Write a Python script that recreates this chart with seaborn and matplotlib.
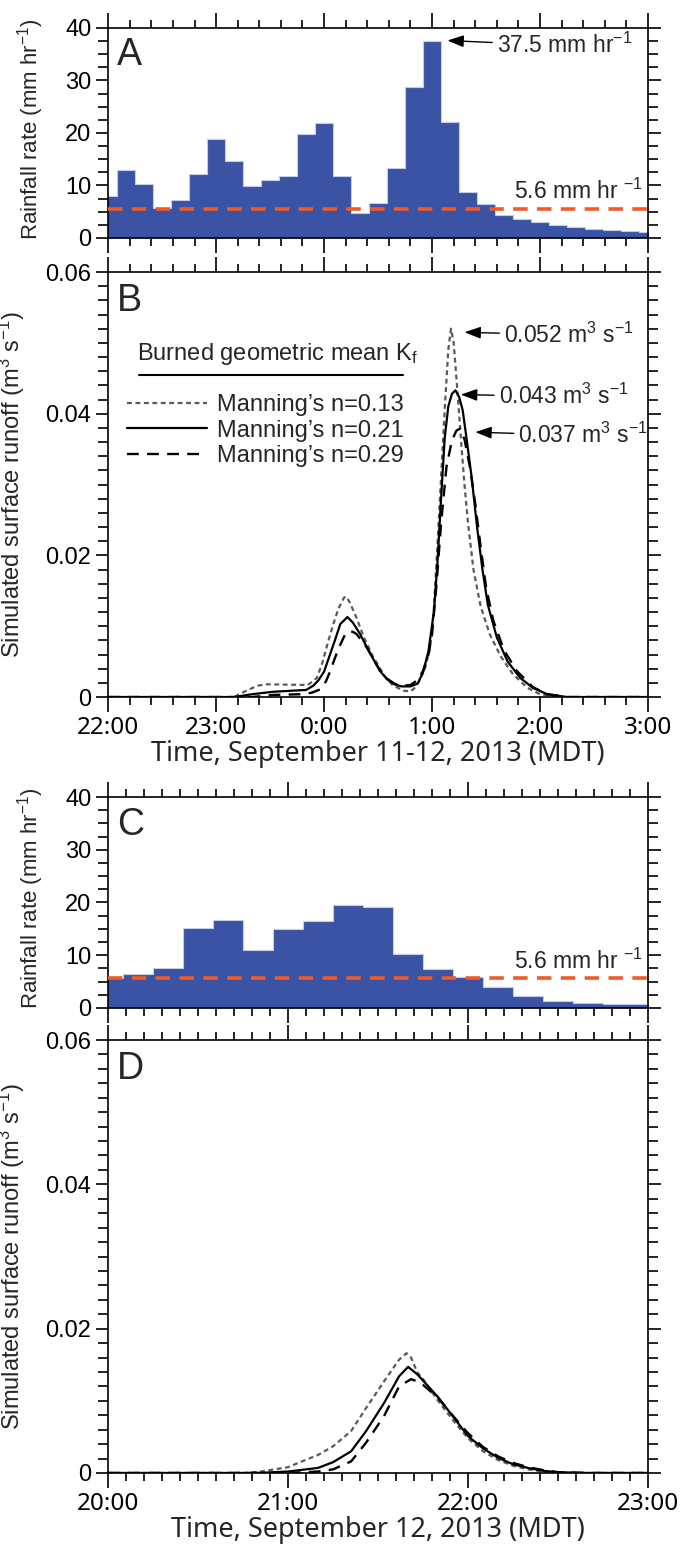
import numpy as np
import pandas as pd
import seaborn as sns
import matplotlib.pyplot as plt
from matplotlib.lines import Line2D
from matplotlib.ticker import MultipleLocator, FixedLocator, FuncFormatter

# ---------------- data ----------------
# panel A: 10-min rainfall, minutes after 22:00 (Sep 11)
rain_a_time = [0, 10, 20, 30, 40, 50, 60, 70, 80, 90, 100, 110, 120, 130, 140, 150,
               160, 170, 180, 190, 200, 210, 220, 230, 240, 250, 260, 270, 280, 290, 300]
rain_a = [7.9, 12.9, 10.2, 5.65, 7.3, 12.2, 18.8, 14.7, 9.9, 11.0, 11.7, 19.8, 21.8, 11.7,
          4.7, 6.7, 13.4, 28.7, 37.5, 22.1, 8.7, 6.4, 4.4, 3.6, 2.95, 2.45, 2.0, 1.75,
          1.5, 1.25, 1.07]

# panel C: 10-min rainfall, minutes after 20:00 (Sep 12)
rain_c_time = [0, 10, 20, 30, 40, 50, 60, 70, 80, 90, 100, 110, 120, 130, 140, 150, 160, 170, 180]
rain_c = [5.6, 6.4, 7.5, 15.2, 16.7, 10.9, 15.0, 16.4, 19.5, 19.2, 10.2, 7.4, 5.9, 4.0,
          2.2, 1.26, 0.9, 0.75, 0.75]

threshold = 5.6

# panel B: simulated runoff, minutes after 22:00
b013_t = [0, 70, 76, 83, 88, 111, 116, 119, 122, 125, 128, 131, 132, 134, 138, 142, 147,
          153, 158, 164, 168, 170, 173, 176, 179, 181, 183, 185, 187, 189, 190.5, 192, 194,
          196, 198, 200, 203, 207, 212, 218, 225, 233, 240, 250, 300]
b013_q = [0, 0, 0.0008, 0.0016, 0.0018, 0.0017, 0.0027, 0.0048, 0.0076, 0.0102, 0.0125,
          0.0140, 0.0142, 0.0135, 0.0112, 0.0085, 0.0058, 0.0032, 0.0017, 0.0009, 0.0008,
          0.0012, 0.0023, 0.0040, 0.0070, 0.0125, 0.0215, 0.0310, 0.0405, 0.0490, 0.0520,
          0.0500, 0.0435, 0.0365, 0.0300, 0.0245, 0.0180, 0.0128, 0.0089, 0.0058, 0.0032,
          0.0013, 0.0004, 0, 0]

b021_t = [0, 70, 80, 92, 110, 114, 117, 120, 123, 126, 129, 133, 136, 140, 144, 147, 151,
          155, 159, 163, 168, 172, 175, 178, 181, 183, 185, 187, 189, 191, 193, 195, 197,
          199, 202, 205, 208, 211, 216, 222, 229, 236, 244, 255, 300]
b021_q = [0, 0, 0.0004, 0.00075, 0.0010, 0.0016, 0.0024, 0.0036, 0.0058, 0.0080, 0.0103,
          0.0113, 0.0105, 0.0089, 0.0069, 0.0055, 0.0037, 0.0025, 0.0018, 0.0015, 0.0015,
          0.0019, 0.0035, 0.0065, 0.0120, 0.0190, 0.0280, 0.0365, 0.0410, 0.0428, 0.0433,
          0.0424, 0.0405, 0.0368, 0.0310, 0.0240, 0.0180, 0.0130, 0.0084, 0.0050, 0.0027,
          0.0013, 0.0004, 0, 0]

b029_t = [0, 80, 92, 108, 113, 118, 121, 123, 126, 129, 132, 134, 136, 138, 142, 144, 147,
          151, 155, 159, 163, 168, 172, 175, 178, 180, 182.5, 185, 188, 191, 193.5, 195.5,
          198, 201, 204, 207, 210, 214, 220, 227, 236, 244, 255, 300]
b029_q = [0, 0, 0.0003, 0.0004, 0.0006, 0.0011, 0.0022, 0.0034, 0.0055, 0.0074, 0.0090,
          0.0093, 0.0092, 0.0089, 0.0076, 0.0069, 0.0055, 0.0038, 0.0026, 0.0019, 0.0016,
          0.0017, 0.0024, 0.0037, 0.0060, 0.0089, 0.0160, 0.0245, 0.0325, 0.0362, 0.0376,
          0.0379, 0.0364, 0.0325, 0.0273, 0.0212, 0.0155, 0.0108, 0.0066, 0.0037, 0.0014,
          0.0004, 0, 0]

# panel D: simulated runoff, minutes after 20:00
d013_t = [0, 45, 51, 60, 64, 70, 75, 81, 86, 92, 97, 99.5, 101, 103, 105, 110, 115, 120,
          125, 130, 135, 140, 145, 155, 180]
d013_q = [0, 0, 0.0002, 0.0008, 0.0015, 0.0025, 0.0037, 0.0058, 0.0090, 0.0127, 0.0157,
          0.0166, 0.0160, 0.0140, 0.0130, 0.0100, 0.0073, 0.0048, 0.0030, 0.0018, 0.0010,
          0.0005, 0.0002, 0, 0]

d021_t = [0, 50, 60, 70, 75, 81, 86, 92, 97, 100, 103, 105, 110, 115, 120, 125, 130, 135,
          140, 145, 150, 160, 180]
d021_q = [0, 0, 0.0002, 0.0007, 0.0015, 0.0030, 0.0058, 0.0097, 0.0134, 0.0147, 0.0137,
          0.0128, 0.0105, 0.0078, 0.0051, 0.0034, 0.0021, 0.0012, 0.0007, 0.0003, 0.0001, 0, 0]

d029_t = [0, 60, 70, 75, 81, 86, 92, 97, 101, 103, 105, 110, 115, 120, 125, 130, 135, 140,
          145, 150, 160, 180]
d029_q = [0, 0, 0.0002, 0.0005, 0.0016, 0.0042, 0.0079, 0.0120, 0.0130, 0.0127, 0.0122,
          0.0104, 0.0079, 0.0055, 0.0036, 0.0023, 0.0014, 0.0008, 0.0004, 0.0001, 0, 0]

labels_ab = ['22:00', '23:00', '0:00', '1:00', '2:00', '3:00']
labels_cd = ['20:00', '21:00', '22:00', '23:00']
series_names = ["Manning\u2019s n=0.13", "Manning\u2019s n=0.21", "Manning\u2019s n=0.29"]

# ---------------- style ----------------
sns.set_style('ticks')
plt.rcParams['font.family'] = ['Liberation Sans', 'DejaVu Sans']
plt.rcParams['mathtext.fontset'] = 'custom'
plt.rcParams['mathtext.rm'] = 'Liberation Sans'
plt.rcParams['mathtext.default'] = 'regular'
plt.rcParams['axes.linewidth'] = 1.2

BLUE = '#3a53a4'
ORANGE = '#f15a29'
GREY = '#5a5a5a'
line_styles = [dict(color=GREY, lw=1.6, linestyle=(0, (2.2, 1.6))),
               dict(color='k', lw=1.6, linestyle='-'),
               dict(color='k', lw=1.7, linestyle=(0, (5, 3.5)))]
XFONT = ['Noto Sans', 'DejaVu Sans']

fig = plt.figure(figsize=(6.8, 15.5), dpi=100)
axA = fig.add_axes([0.159, 0.8465, 0.794, 0.1355])
axB = fig.add_axes([0.159, 0.5503, 0.794, 0.2742])
axC = fig.add_axes([0.159, 0.3497, 0.794, 0.1361])
axD = fig.add_axes([0.159, 0.0497, 0.794, 0.2793])


def frame(ax, span, minor_x, labels, ymax, ymajor, yminor, show_x):
    ax.set_xlim(0, span)
    ax.set_ylim(0, ymax)
    ax.xaxis.set_major_locator(FixedLocator(np.arange(0, span + 1, 60)))
    ax.xaxis.set_minor_locator(MultipleLocator(minor_x))
    ax.yaxis.set_major_locator(MultipleLocator(ymajor))
    ax.yaxis.set_minor_locator(MultipleLocator(yminor))
    ax.tick_params(which='both', direction='out', top=True, right=True, width=1.2,
                   colors='k', labelsize=17, pad=3)
    ax.tick_params(axis='x', which='major', length=11)
    ax.tick_params(axis='x', which='minor', length=6)
    ax.tick_params(axis='y', which='major', length=9)
    ax.tick_params(axis='y', which='minor', length=7)
    if show_x:
        ax.set_xticklabels(labels, family=XFONT, fontsize=17.5)
    else:
        ax.set_xticklabels([])
    for s in ax.spines.values():
        s.set_visible(True)
        s.set_color('k')


def rain_panel(ax, t, r, span, minor_x, letter):
    edges = list(np.arange(-5, span + 10, 10))
    df = pd.DataFrame({'time': t, 'rain': r})
    sns.histplot(data=df, x='time', weights='rain', bins=edges, element='step', fill=True,
                 color=BLUE, alpha=1, edgecolor='#c3cbe6', linewidth=0.8, ax=ax)
    ax.axhline(threshold, color=ORANGE, lw=2.6, linestyle=(0, (4, 2.6)), zorder=3)
    frame(ax, span, minor_x, None, 40, 10, 2.5, False)
    ax.yaxis.set_major_formatter(FuncFormatter(lambda v, p: f'{v:.0f}'))
    ax.set_xlabel('')
    ax.set_ylabel('Rainfall rate (mm hr$^{-1}$)', fontsize=16, labelpad=2)
    ax.yaxis.set_label_coords(-0.115, 0.52)
    ax.text(0.017, 0.955, letter, transform=ax.transAxes, fontsize=27, va='top', ha='left')
    ax.text(span * 0.99, threshold + 0.9, '5.6 mm hr $^{-1}$', ha='right', va='bottom',
            fontsize=16.5)


def runoff_panel(ax, series, span, minor_x, labels, xlabel, letter):
    for (t, q), kw in zip(series, line_styles):
        sns.lineplot(x=t, y=q, ax=ax, errorbar=None, **kw)
    frame(ax, span, minor_x, labels, 0.06, 0.02, 0.002, True)
    ax.yaxis.set_major_formatter(FuncFormatter(lambda v, p: '0' if abs(v) < 1e-9 else f'{v:.2f}'))
    ax.set_xlabel(xlabel, family=XFONT, fontsize=19.5, labelpad=0)
    ax.set_ylabel('Simulated surface runoff (m$^{3}$ s$^{-1}$)', fontsize=17, labelpad=2)
    ax.yaxis.set_label_coords(-0.150, 0.5)
    ax.text(0.017, 0.975, letter, transform=ax.transAxes, fontsize=27, va='top', ha='left')


# ---------------- panels ----------------
rain_panel(axA, rain_a_time, rain_a, 300, 12, 'A')
axA.annotate('37.5 mm hr$^{-1}$', xy=(188.5, 37.6), xytext=(216, 36.6), fontsize=16.5,
             va='center', ha='left',
             arrowprops=dict(arrowstyle='-|>,head_length=0.6,head_width=0.22', color='k',
                             lw=1.0, shrinkA=1, shrinkB=0))

runoff_panel(axB, [(b013_t, b013_q), (b021_t, b021_q), (b029_t, b029_q)], 300, 12,
             labels_ab, 'Time, September 11-12, 2013 (MDT)', 'B')

peak_notes = [('0.052 m$^{3}$ s$^{-1}$', (198, 0.0515), (220, 0.0511)),
              ('0.043 m$^{3}$ s$^{-1}$', (196, 0.0427), (217, 0.0424)),
              ('0.037 m$^{3}$ s$^{-1}$', (204, 0.0374), (228, 0.0369))]
for txt, xy, xyt in peak_notes:
    axB.annotate(txt, xy=xy, xytext=xyt, fontsize=16.5, va='center', ha='left',
                 arrowprops=dict(arrowstyle='-|>,head_length=0.6,head_width=0.22',
                                 color='k', lw=1.0, shrinkA=1, shrinkB=0))

axB.text(0.053, 0.808, 'Burned geometric mean K$_{f}$', transform=axB.transAxes,
         fontsize=17, va='center', ha='left')
axB.plot([0.057, 0.547], [0.758, 0.758], transform=axB.transAxes, color='k', lw=1.5)
handles = [Line2D([], [], **kw) for kw in line_styles]
axB.legend(handles, series_names, loc='upper left', bbox_to_anchor=(0.035, 0.713),
           frameon=False, fontsize=17, handlelength=3.4, handletextpad=0.4,
           labelspacing=0.15, borderpad=0, borderaxespad=0)

rain_panel(axC, rain_c_time, rain_c, 180, 6, 'C')

runoff_panel(axD, [(d013_t, d013_q), (d021_t, d021_q), (d029_t, d029_q)], 180, 6,
             labels_cd, 'Time, September 12, 2013 (MDT)', 'D')

fig.savefig('out.png', dpi=100)
